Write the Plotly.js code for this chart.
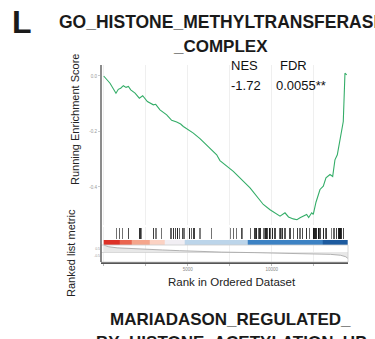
<!DOCTYPE html>
<html>
<head>
<meta charset="utf-8">
<script src="https://cdn.plot.ly/plotly-3.0.1.min.js"></script>
<style>html,body{margin:0;padding:0;background:#fff;}#chart{width:375px;height:339px;}</style>
</head>
<body>
<div id="chart"></div>
<script>
// ---- data ----
const esRank  = [0, 375, 730, 870, 1010, 1170, 1330, 1470, 1610, 1865, 2120, 2320, 2600, 2955, 3095, 3350, 3750, 4045, 4345, 4580, 4740, 5135, 5335, 5730, 6230, 6725, 6920, 7715, 8710, 9500, 9900, 10300, 10495, 10790, 11000, 11285, 11500, 11685, 11900, 12080, 12200, 12380, 12475, 12635, 12875, 13070, 13230, 13470, 13630, 13765, 13905, 14165, 14260, 14360, 14465];
const esScore = [0.0, -0.026, -0.062, -0.048, -0.044, -0.035, -0.041, -0.038, -0.050, -0.062, -0.080, -0.071, -0.092, -0.104, -0.102, -0.122, -0.140, -0.160, -0.166, -0.173, -0.182, -0.196, -0.206, -0.226, -0.254, -0.284, -0.305, -0.344, -0.403, -0.463, -0.482, -0.497, -0.505, -0.493, -0.508, -0.515, -0.518, -0.511, -0.505, -0.499, -0.510, -0.493, -0.499, -0.455, -0.409, -0.397, -0.367, -0.355, -0.362, -0.302, -0.284, -0.200, -0.164, 0.010, 0.004];

const hitRanks = [774, 930, 1130, 1466, 2160, 2260, 2955, 3115, 3450, 4005, 4145, 4285, 4380, 4500, 4700, 4780, 5100, 5235, 5375, 5730, 6430, 7520, 7715, 7915, 8215, 8270, 8750, 9005, 9105, 9205, 9305, 9540, 9660, 9740, 9860, 9940, 10060, 10195, 10495, 10555, 10655, 10790, 11090, 11290, 11525, 11685, 11845, 12080, 12240, 12475, 12575, 12680, 12775, 12875, 13075, 13175, 13275, 13570, 13710, 13830, 13965, 14065, 14165, 14265];
const hitShade = [0.55, 0.6, 0.55, 0.7, 0.8, 0.5, 0.75, 0.5, 0.55, 0.6, 0.8, 0.7, 0.85, 0.6, 0.7, 0.55, 0.8, 0.6, 0.75, 0.5, 0.55, 0.5, 0.6, 0.55, 0.7, 0.5, 0.6, 0.75, 0.85, 0.6, 0.8, 0.55, 0.85, 0.7, 0.9, 0.6, 0.85, 0.7, 0.6, 0.5, 0.8, 0.65, 0.7, 0.6, 0.75, 0.55, 0.7, 0.8, 0.6, 0.9, 0.85, 0.8, 0.9, 0.7, 0.85, 0.6, 0.75, 0.5, 0.6, 0.75, 0.85, 0.9, 0.8, 0.7];

const bandEdges  = [0, 970, 1667, 2756, 3650, 4840, 8590, 13050, 14540];
const bandLevel  = [0, 1, 2, 3, 4, 5, 6, 7];
const bandColors = ['#dd3127', '#ea6650', '#f5a68c', '#fbd2c3', '#f1eef3', '#bcd5ea', '#3c82c4', '#1d5b9f'];

const metricRanks  = [0, 300, 800, 1500, 2500, 3500, 4500, 5500, 7000, 9000, 11000, 12500, 13500, 14100, 14400, 14540];
const metricValues = [1.0, 0.75, 0.6, 0.5, 0.4, 0.3, 0.2, 0.1, 0.0, -0.08, -0.15, -0.22, -0.32, -0.45, -0.65, -0.9];

const xTicks = [0, 2500, 5000, 7500, 10000, 12500];

const nesLabel = 'NES', nesValue = '-1.72';
const fdrLabel = 'FDR', fdrValue = '0.0055**';

// ---- layout helpers (pixel -> paper) ----
const L = 101, R = 348, T = 65, B = 262;
const px = x => (x - L) / (R - L);
const py = y => (B - y) / (B - T);
const font = 'Liberation Sans, Arial, sans-serif';

const traces = [
  {
    type: 'scatter', mode: 'lines', x: esRank, y: esScore,
    xaxis: 'x', yaxis: 'y',
    line: {color: '#34ad68', width: 1.1}, hoverinfo: 'skip'
  },
  {
    type: 'bar', x: hitRanks, y: hitRanks.map(() => 1), base: 0,
    width: 65, xaxis: 'x', yaxis: 'y2',
    marker: {color: hitShade.map(a => 'rgba(0,0,0,' + a + ')'), line: {width: 0}},
    hoverinfo: 'skip'
  },
  {
    type: 'heatmap', x: bandEdges, y: [0, 1], z: [bandLevel],
    zmin: 0, zmax: bandLevel.length - 1,
    colorscale: bandColors.map((c, i) => [i / (bandColors.length - 1), c]),
    showscale: false, xaxis: 'x', yaxis: 'y3', hoverinfo: 'skip'
  },
  {
    type: 'scatter', mode: 'lines', x: metricRanks, y: metricValues,
    fill: 'tozeroy', fillcolor: '#e8e8e8',
    line: {color: '#a0a0a0', width: 0.8},
    xaxis: 'x', yaxis: 'y4', hoverinfo: 'skip'
  }
];

const layout = {
  width: 375, height: 339,
  margin: {l: L, r: 375 - R, t: T, b: 339 - B, pad: 0},
  paper_bgcolor: '#ffffff', plot_bgcolor: '#ffffff',
  showlegend: false,
  font: {family: font, color: '#222'},
  bargap: 0,
  xaxis: {
    range: [-161, 14541], anchor: 'y4',
    tickmode: 'array', tickvals: xTicks,
    ticktext: xTicks.map(v => (v === 5000 || v === 10000) ? String(v) : ''),
    ticks: 'outside', ticklen: 2, tickcolor: '#888', tickwidth: 0.6,
    tickfont: {size: 4.5, color: '#888', family: font},
    showgrid: true, gridcolor: '#ebebeb', gridwidth: 0.8,
    showline: true, linecolor: '#555', linewidth: 1.5,
    zeroline: false, fixedrange: true
  },
  yaxis: {
    domain: [py(225), 1], range: [-0.537, 0.0396], anchor: 'x',
    tickmode: 'array', tickvals: [0, -0.2, -0.4], ticktext: ['0.0', '-0.2', '-0.4'],
    ticks: 'outside', ticklen: 2, tickcolor: '#aaa', tickwidth: 0.6,
    tickfont: {size: 4.5, color: '#999', family: font},
    showgrid: false, zeroline: false, showline: false
  },
  yaxis2: {domain: [py(240), py(227)], range: [-0.08, 1.08], anchor: 'x', visible: false},
  yaxis3: {domain: [py(245), py(240)], range: [0, 1], anchor: 'x', visible: false},
  yaxis4: {
    domain: [0, py(245)], range: [-1.4, 1.0], anchor: 'x',
    tickmode: 'array', tickvals: [0.5, -0.5], ticktext: ['0.5', '-0.5'],
    ticks: '', tickfont: {size: 3.5, color: '#999', family: font},
    showgrid: false, zeroline: true, zerolinecolor: '#cfcfcf', zerolinewidth: 0.8, showline: false
  },
  shapes: [
    {type: 'rect', xref: 'paper', yref: 'paper', x0: 0, x1: 1, y0: 0, y1: py(245),
     line: {color: '#cccccc', width: 0.8}, layer: 'above'},
    {type: 'line', xref: 'paper', yref: 'paper', x0: 0, x1: 0, y0: 0, y1: 1,
     line: {color: '#666', width: 1.5}, layer: 'above'}
  ],
  annotations: [
    {text: '<b>L</b>', x: px(22), y: py(22), xref: 'paper', yref: 'paper', showarrow: false,
     xanchor: 'center', yanchor: 'middle', font: {size: 32, color: '#1a1a1a', family: font}},
    {text: '<b>GO_HISTONE_METHYLTRANSFERASE</b>', x: px(57), y: py(21.5), xref: 'paper', yref: 'paper', showarrow: false,
     xanchor: 'left', yanchor: 'middle', font: {size: 17.5, color: '#1a1a1a', family: font}},
    {text: '<b>_COMPLEX</b>', x: px(220), y: py(46.5), xref: 'paper', yref: 'paper', showarrow: false,
     xanchor: 'center', yanchor: 'middle', font: {size: 17, color: '#1a1a1a', family: font}},
    {text: nesLabel, x: px(229), y: py(65.5), xref: 'paper', yref: 'paper', showarrow: false,
     xanchor: 'left', yanchor: 'middle', font: {size: 13, color: '#111', family: font}},
    {text: nesValue, x: px(229), y: py(85.5), xref: 'paper', yref: 'paper', showarrow: false,
     xanchor: 'left', yanchor: 'middle', font: {size: 13, color: '#111', family: font}},
    {text: fdrLabel, x: px(277.5), y: py(65.5), xref: 'paper', yref: 'paper', showarrow: false,
     xanchor: 'left', yanchor: 'middle', font: {size: 13, color: '#111', family: font}},
    {text: fdrValue, x: px(273.5), y: py(85.5), xref: 'paper', yref: 'paper', showarrow: false,
     xanchor: 'left', yanchor: 'middle', font: {size: 13, color: '#111', family: font}},
    {text: 'Running Enrichment Score', x: px(75), y: py(120), xref: 'paper', yref: 'paper', showarrow: false,
     textangle: -90, xanchor: 'center', yanchor: 'middle', font: {size: 11, color: '#222', family: font}},
    {text: 'Ranked list metric', x: px(71), y: py(253), xref: 'paper', yref: 'paper', showarrow: false,
     textangle: -90, xanchor: 'center', yanchor: 'middle', font: {size: 11, color: '#222', family: font}},
    {text: 'Rank in Ordered Dataset', x: px(232), y: py(282), xref: 'paper', yref: 'paper', showarrow: false,
     xanchor: 'center', yanchor: 'middle', font: {size: 11.5, color: '#222', family: font}},
    {text: '<b>MARIADASON_REGULATED_</b>', x: px(230), y: py(319), xref: 'paper', yref: 'paper', showarrow: false,
     xanchor: 'center', yanchor: 'middle', font: {size: 17, color: '#1a1a1a', family: font}},
    {text: '<b>BY_HISTONE_ACETYLATION_UP</b>', x: px(231), y: py(342), xref: 'paper', yref: 'paper', showarrow: false,
     xanchor: 'center', yanchor: 'middle', font: {size: 17, color: '#1a1a1a', family: font}}
  ]
};

Plotly.newPlot('chart', traces, layout, {staticPlot: true, displayModeBar: false});
</script>
</body>
</html>
